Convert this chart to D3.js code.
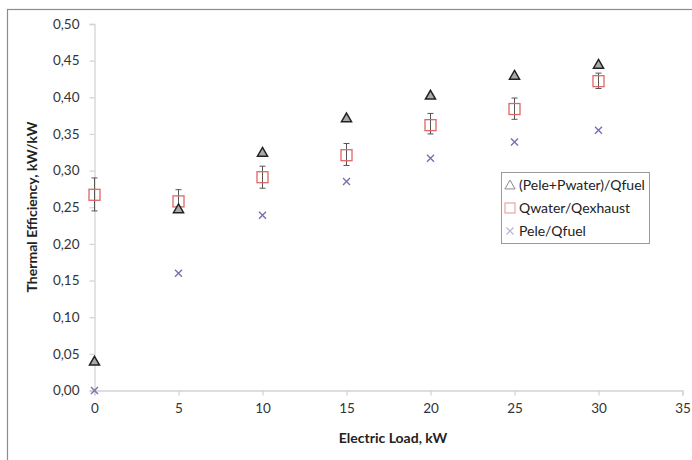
<!DOCTYPE html>
<html><head><meta charset="utf-8">
<script src="https://cdn.jsdelivr.net/npm/d3@7"></script>
<style>body{margin:0;background:#fff}svg{display:block}text{font-family:Lato,"Open Sans",sans-serif}</style>
</head><body><svg id="c" width="692" height="460"></svg>
<script>
const loads = [0, 5, 10, 15, 20, 25, 30];
const totalEff = [0.040, 0.248, 0.325, 0.372, 0.403, 0.430, 0.445];
const waterEff = [0.267, 0.258, 0.291, 0.321, 0.362, 0.384, 0.422];
const waterErrLow = [0.245, 0.245, 0.276, 0.307, 0.350, 0.370, 0.412];
const waterErrHigh = [0.290, 0.274, 0.306, 0.337, 0.378, 0.399, 0.433];
const eleEff = [0.000, 0.160, 0.239, 0.285, 0.317, 0.339, 0.355];
const xTicks = [0, 5, 10, 15, 20, 25, 30, 35];
const yTicks = [0, 0.05, 0.10, 0.15, 0.20, 0.25, 0.30, 0.35, 0.40, 0.45, 0.50];
const legendLabels = ["(Pele+Pwater)/Qfuel", "Qwater/Qexhaust", "Pele/Qfuel"];

const svg = d3.select("#c");
svg.append("rect").attr("x", 7.5).attr("y", 9.5).attr("width", 700).attr("height", 470)
  .attr("fill", "none").attr("stroke", "#8c8c8c").attr("stroke-width", 1.2);

const x = d3.scaleLinear().domain([0, 35]).range([94.5, 682.5]);
const y = d3.scaleLinear().domain([0, 0.5]).range([390.5, 24]);
const fmt = d => d3.format(".2f")(d).replace(".", ",");

const gx = svg.append("g").attr("transform", `translate(0,${y(0)})`)
  .call(d3.axisBottom(x).tickValues(xTicks).tickSize(5).tickPadding(8).tickFormat(d3.format("d")));
const gy = svg.append("g").attr("transform", `translate(${x(0)},0)`)
  .call(d3.axisLeft(y).tickValues(yTicks).tickSize(5).tickPadding(10).tickFormat(fmt));
[gx, gy].forEach(g => {
  g.selectAll("path,line").attr("stroke", "#d4d4d4").attr("stroke-width", 1.3);
  g.selectAll("text").attr("font-size", 13.5).attr("fill", "#333");
});

svg.append("text").attr("x", 393).attr("y", 443).attr("text-anchor", "middle")
  .attr("font-size", 14).attr("font-weight", "bold").attr("fill", "#222").text("Electric Load, kW");
svg.append("text").attr("transform", "translate(37,207) rotate(-90)").attr("text-anchor", "middle")
  .attr("font-size", 14).attr("font-weight", "bold").attr("fill", "#222").text("Thermal Efficiency, kW/kW");

// error bars
const eb = svg.append("g").attr("stroke", "#555").attr("stroke-width", 1);
loads.forEach((l, i) => {
  const cx = x(l);
  eb.append("line").attr("x1", cx).attr("x2", cx).attr("y1", y(waterErrLow[i])).attr("y2", y(waterErrHigh[i]));
  eb.append("line").attr("x1", cx - 3).attr("x2", cx + 3).attr("y1", y(waterErrLow[i])).attr("y2", y(waterErrLow[i]));
  eb.append("line").attr("x1", cx - 3).attr("x2", cx + 3).attr("y1", y(waterErrHigh[i])).attr("y2", y(waterErrHigh[i]));
});

const tri = d3.symbol().type(d3.symbolTriangle).size(44);
const markers = svg.append("g");
markers.selectAll(".sq").data(loads).join("rect")
  .attr("x", (d, i) => x(d) - 5.5).attr("y", (d, i) => y(waterEff[i]) - 5.5)
  .attr("width", 11).attr("height", 11).attr("fill", "none").attr("stroke", "#e06666").attr("stroke-width", 1.3);
markers.selectAll(".tr").data(loads).join("path")
  .attr("d", tri).attr("transform", (d, i) => `translate(${x(d)},${y(totalEff[i]) + 1})`)
  .attr("fill", "#aaa").attr("stroke", "#222").attr("stroke-width", 1.5);
markers.selectAll(".cr").data(loads).join("path")
  .attr("d", "M-3.5,-3.5L3.5,3.5M-3.5,3.5L3.5,-3.5")
  .attr("transform", (d, i) => `translate(${x(d)},${y(eleEff[i])})`)
  .attr("stroke", "#7e6bb0").attr("stroke-width", 1.4).attr("fill", "none");

// legend
const lg = svg.append("g").attr("transform", "translate(501,172)");
lg.append("rect").attr("x", 0.5).attr("y", 0.5).attr("width", 148).attr("height", 71)
  .attr("fill", "#fff").attr("stroke", "#999");
const ly = [13, 36, 59];
lg.append("path").attr("d", d3.symbol().type(d3.symbolTriangle).size(45))
  .attr("transform", `translate(9,${ly[0] + 1})`).attr("fill", "none").attr("stroke", "#888").attr("stroke-width", 1);
lg.append("rect").attr("x", 4).attr("y", ly[1] - 5).attr("width", 10).attr("height", 10)
  .attr("fill", "none").attr("stroke", "#eba3a3").attr("stroke-width", 1.2);
lg.append("path").attr("d", "M-3.5,-3.5L3.5,3.5M-3.5,3.5L3.5,-3.5")
  .attr("transform", `translate(9,${ly[2]})`).attr("stroke", "#b6acd6").attr("stroke-width", 1.1);
legendLabels.forEach((t, i) => {
  lg.append("text").attr("x", 18).attr("y", ly[i]).attr("dy", "0.35em")
    .attr("font-size", 14).attr("fill", "#222").text(t);
});
</script></body></html>
